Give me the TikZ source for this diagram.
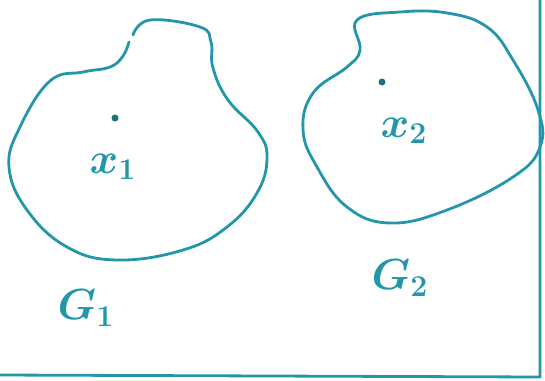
\documentclass[tikz,border=0pt]{standalone}
\usepackage{graphicx}
\usepackage{tikz}
\definecolor{inkteal}{RGB}{36,150,170}
\newcommand{\inklabel}[1]{\scalebox{2.1}{$#1$}}

\begin{document}
\begin{tikzpicture}[x=1pt,y=-1pt,
  every node/.style={text=inkteal,font=\huge\boldmath},
  rim/.style={draw=inkteal,line width=2.8pt,line cap=round,line join=round},
  dot/.style={circle,fill=inkteal!75!black,inner sep=0pt,minimum size=7pt}]
\useasboundingbox (0,0) rectangle (545,380);
% frame
\coordinate (fl) at (0,375);
\coordinate (fc) at (540,377);
\coordinate (ft) at (540,0);
\draw[rim] (fl) -- (fc) -- (ft);
% first region
\draw[rim] plot[smooth,tension=0.7] coordinates {(133,35) (150,20) (200,27) (211,42) (213,68)
  (228,100) (258,132) (267,158) (257,193) (227,227) (183,250) (117,260) (67,247)
  (27,210) (9,167) (20,127) (50,81) (83,72) (110,67) (123,56) (129,42)};
% second region
\draw[rim] plot[smooth cycle,tension=0.7] coordinates {(400,12) (447,13) (487,27) (513,60)
  (538,110) (540,147) (513,177) (447,210) (390,223) (347,207) (317,167) (303,130)
  (313,93) (347,67) (360,50) (357,20)};
\node[dot] (d1) at (115,118) {};
\node[dot] (d2) at (382,82) {};
\node (x1) at (113,167) {\inklabel{x_1}};
\node (x2) at (404,131) {\inklabel{x_2}};
\node (g1) at (86,308) {\inklabel{G_1}};
\node (g2) at (400,278) {\inklabel{G_2}};
\end{tikzpicture}
\end{document}
